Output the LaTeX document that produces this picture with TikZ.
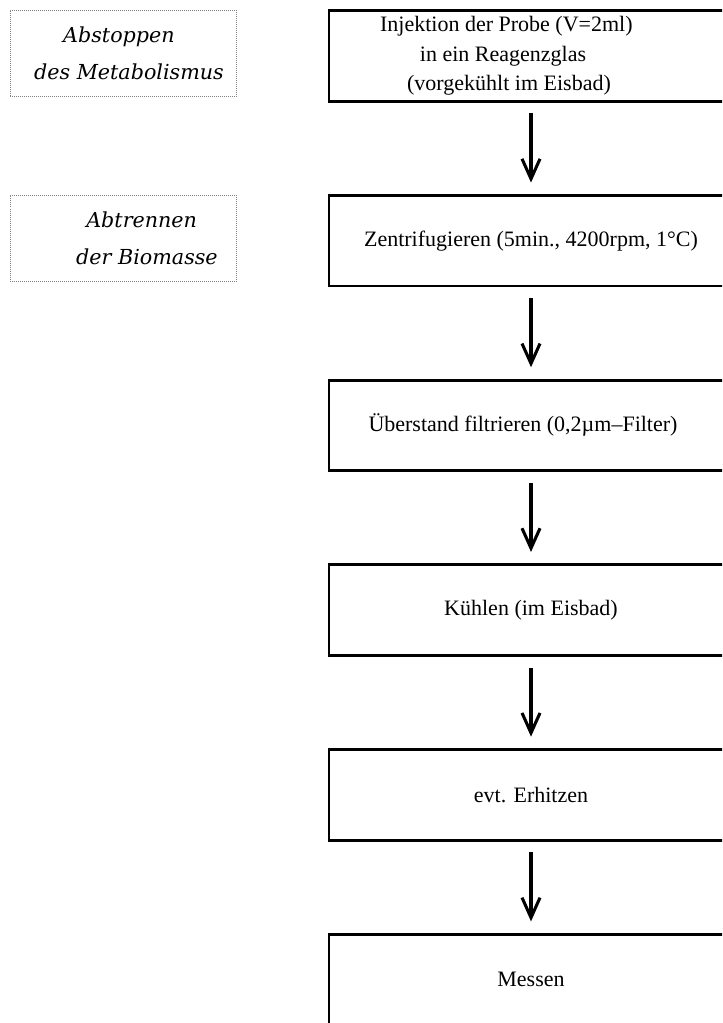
\documentclass[tikz,border=0pt]{standalone}
\usepackage{fontspec}
\setmainfont{Liberation Serif}
\newfontfamily\notefont{DejaVu Serif}
\usetikzlibrary{arrows.meta, positioning}

\begin{document}
\begin{tikzpicture}[x=0.75pt, y=-0.75pt, >={Straight Barb[length=15pt, width=13.5pt]},
                    stepbox/.style={draw, line width=2.2pt, minimum width=303pt, minimum height=68pt, inner sep=0pt, align=center,
                                    font=\fontsize{16.5}{22}\selectfont},
                    notebox/.style={draw, densely dotted, gray, line width=0.5pt, minimum width=169.5pt, minimum height=65pt,
                                    align=center, text=black, font=\notefont\itshape\fontsize{15.5}{27.5}\selectfont},
                    flow/.style={->, line width=2.3pt, shorten <=8pt, shorten >=8.5pt}]
                    \useasboundingbox (0,0) rectangle (722,1023);
                    \clip (0,0) rectangle (722,1023);

                    % Notes on the left
                    \node[notebox] (stop) at (123, 53.5) {\hbox{Abstoppen\kern6pt}\\\hbox{\kern9pt des Metabolismus}};
                    \node[notebox] (sep) at (123, 238.5) {\hbox{\kern28pt Abtrennen}\\\hbox{\kern36pt der Biomasse}};

                    % Steps
                    \node[stepbox] (inj) at (531, 56.0) {\hbox{Injektion der Probe (V=2ml)\kern37pt}\\\hbox{in ein Reagenzglas\kern42pt}\\\hbox{(vorgekühlt im Eisbad)\kern33pt}};
                    \node[stepbox] (zen) at (531, 240.7) {Zentrifugieren (5min., 4200rpm, 1°C)};
                    \node[stepbox] (fil) at (531, 425.4) {\hbox{Überstand filtrieren (0,2µm–Filter)\kern12pt}};
                    \node[stepbox] (kue) at (531, 610.1) {Kühlen (im Eisbad)};
                    \node[stepbox] (erh) at (531, 794.8) {evt. Erhitzen};
                    \node[stepbox] (mes) at (531, 979.5) {Messen};

                    % Arrows between steps
                    \draw[flow] (inj) -- (zen);
                    \draw[flow] (zen) -- (fil);
                    \draw[flow] (fil) -- (kue);
                    \draw[flow] (kue) -- (erh);
                    \draw[flow] (erh) -- (mes);
\end{tikzpicture}
\end{document}
